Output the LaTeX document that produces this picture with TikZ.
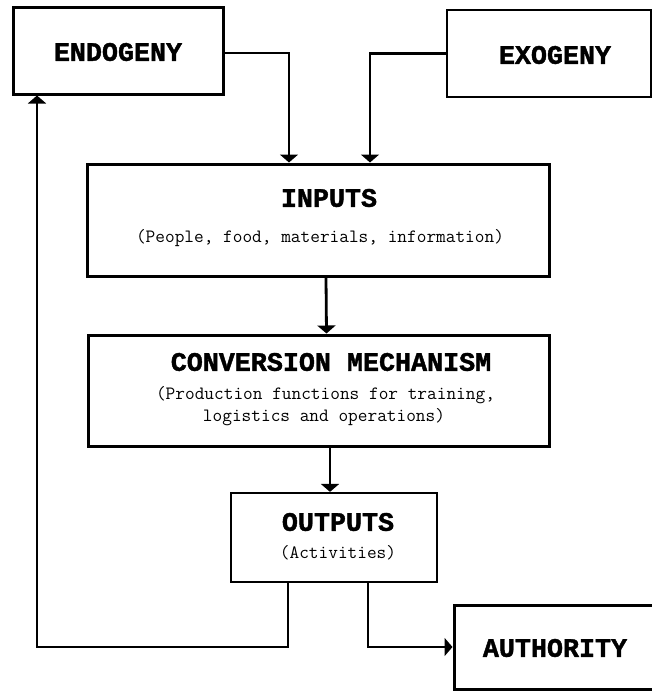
\documentclass[tikz,border=0pt]{standalone}
\usepackage{fontspec}
\usetikzlibrary{arrows.meta}
\newfontfamily\monobf{Liberation Mono Bold}[FakeBold=1.5]
\begin{document}
\begin{tikzpicture}[x=1pt,y=-1pt,
  box/.style={draw, line width=3pt, rectangle, inner sep=0pt},
  thinbox/.style={box, line width=2.2pt},
  ttl/.style={font=\monobf\fontsize{26.7}{30}\selectfont, inner sep=0pt},
  sub/.style={font=\ttfamily\fontsize{18.8}{22}\selectfont, inner sep=0pt},
  arr/.style={line width=2.8pt, -{Triangle[width=18pt,length=8pt]}}]
\useasboundingbox[fill=white] (0,0) rectangle (652,691);
% boxes
\node[box, minimum width=210pt, minimum height=87pt] (endo) at (118,50.5) {};
\node[thinbox, minimum width=204pt, minimum height=87pt] (exo) at (549,53.5) {};
\node[box, minimum width=462pt, minimum height=112pt] (inputs) at (318,220) {};
\node[box, minimum width=461pt, minimum height=111pt] (conv) at (318.5,390.5) {};
\node[thinbox, minimum width=206pt, minimum height=89pt] (outputs) at (334,537.5) {};
\node[box, minimum width=216pt, minimum height=84pt] (auth) at (562,647) {};
% texts
\node[ttl] (endoT) at (118,52) {ENDOGENY};
\node[ttl] (exoT) at (555,55) {EXOGENY};
\node[ttl] (inT) at (329,198) {INPUTS};
\node[sub] (inS) at (320,238) {(People, food, materials, information)};
\node[ttl] (convT) at (331,362) {CONVERSION MECHANISM};
\node[sub] (convS1) at (325.5,395) {(Production functions for training,};
\node[sub] (convS2) at (324,417) {logistics and operations)};
\node[ttl] (outT) at (338,522) {OUTPUTS};
\node[sub] (outS) at (338,553) {(Activities)};
\node[ttl] (authT) at (555,648) {AUTHORITY};
% connectors
\coordinate (fb) at (37,647);
\draw[arr] ([yshift=-2.5pt]endo.east) -| ([xshift=-29pt]inputs.north);
\draw[arr] (exo.west) -| ([xshift=52pt]inputs.north);
\draw[arr] ([xshift=8pt]inputs.south) -- ([xshift=8pt]conv.north);
\draw[arr] ([xshift=-4pt]outputs.north |- conv.south) -- ([xshift=-4pt]outputs.north);
\draw[arr] ([xshift=-46pt]outputs.south) |- (fb) -- ([xshift=-81pt]endo.south);
\draw[arr] ([xshift=34pt]outputs.south) |- (auth.west);
\end{tikzpicture}
\end{document}
